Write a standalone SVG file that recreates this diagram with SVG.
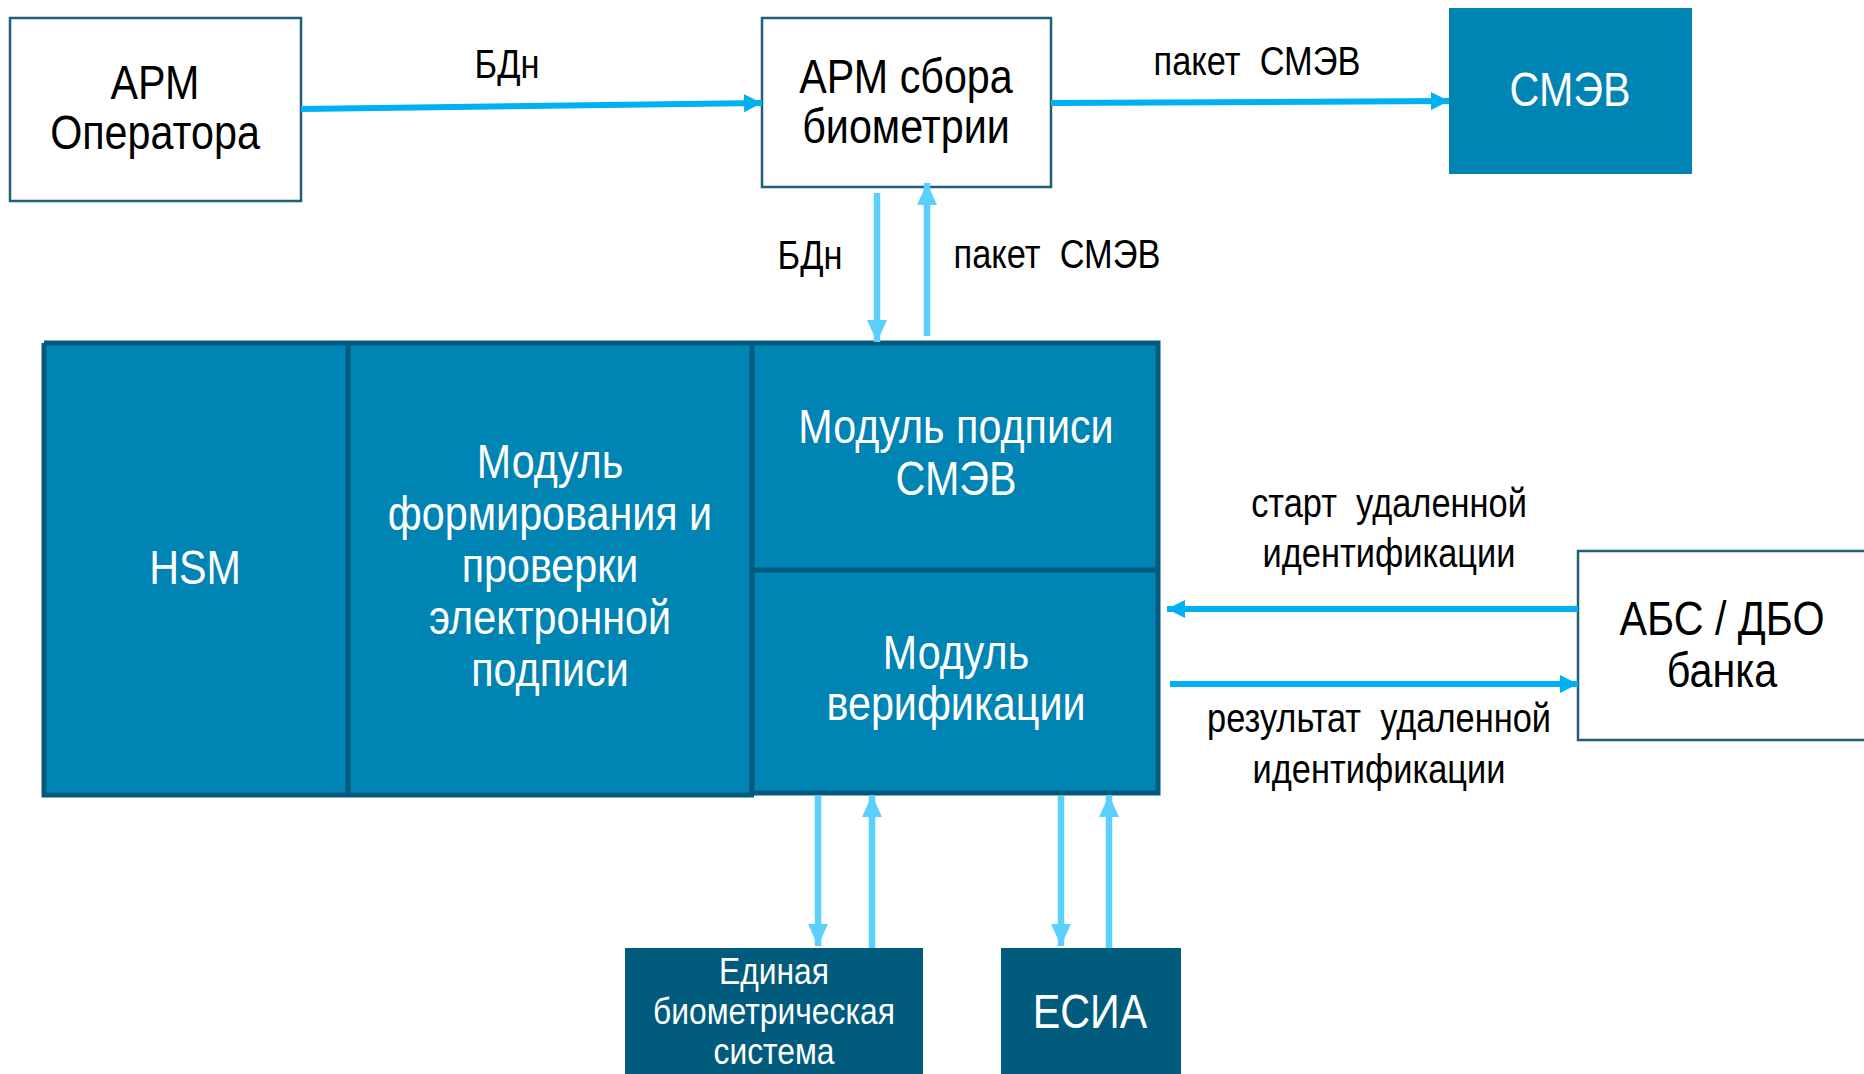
<svg xmlns="http://www.w3.org/2000/svg" width="1864" height="1074" viewBox="0 0 1864 1074">
<defs>
<style>
.t{font-family:"Liberation Sans",Arial,sans-serif;text-anchor:middle}
.dk{fill:#000}
.wh{fill:#fff}
.box{fill:#fff;stroke:#1f5f78;stroke-width:2.5}
.blue{fill:#0084b4}
.navy{fill:#005b7c}
.div{stroke:#005a7d;stroke-width:5;fill:none}
.ah{stroke:#00b0f0;stroke-width:6;fill:none}
.av{stroke:#5cd0fd;stroke-width:6.5;fill:none}
</style>
<marker id="mh" markerUnits="userSpaceOnUse" markerWidth="20" markerHeight="20" refX="18" refY="10" orient="auto">
<path d="M0,1 L18,10 L0,19 Z" fill="#00b0f0"/>
</marker>
<marker id="mv" markerUnits="userSpaceOnUse" markerWidth="24" markerHeight="20" refX="22" refY="10" orient="auto">
<path d="M0,0 L22,10 L0,20 Z" fill="#5cd0fd"/>
</marker>
</defs>
<rect width="1864" height="1074" fill="#fff"/>

<g id="arm-operator">
<rect class="box" x="10" y="18" width="291" height="183"/>
<text class="t dk" font-size="48" transform="translate(155,99) scale(0.86,1)">АРМ</text>
<text class="t dk" font-size="48" transform="translate(155,149) scale(0.86,1)">Оператора</text>
</g>

<g id="arm-sbora">
<rect class="box" x="762" y="18" width="289" height="169"/>
<text class="t dk" font-size="48" transform="translate(906,93) scale(0.86,1)">АРМ сбора</text>
<text class="t dk" font-size="48" transform="translate(906,143) scale(0.86,1)">биометрии</text>
</g>

<g id="smev">
<rect class="blue" x="1449" y="8" width="243" height="166"/>
<text class="t wh" font-size="48" transform="translate(1570,106) scale(0.86,1)">СМЭВ</text>
</g>

<g id="core">
<rect class="blue" x="42" y="343" width="1118" height="452"/>
<path class="div" d="M44,343 H1158 V793 H754 M44,343 V795 H754 M348,343 V795 M752,343 V795 M752,570 H1158"/>
</g>

<g id="hsm">
<text class="t wh" font-size="48" transform="translate(195,584) scale(0.86,1)">HSM</text>
</g>

<g id="modul-ep">
<text class="t wh" font-size="48" transform="translate(550,478) scale(0.86,1)">Модуль</text>
<text class="t wh" font-size="48" transform="translate(550,530) scale(0.86,1)">формирования и</text>
<text class="t wh" font-size="48" transform="translate(550,582) scale(0.86,1)">проверки</text>
<text class="t wh" font-size="48" transform="translate(550,634) scale(0.86,1)">электронной</text>
<text class="t wh" font-size="48" transform="translate(550,686) scale(0.86,1)">подписи</text>
</g>

<g id="modul-smev">
<text class="t wh" font-size="48" transform="translate(956,443) scale(0.86,1)">Модуль подписи</text>
<text class="t wh" font-size="48" transform="translate(956,495) scale(0.86,1)">СМЭВ</text>
</g>

<g id="modul-verif">
<text class="t wh" font-size="48" transform="translate(956,669) scale(0.86,1)">Модуль</text>
<text class="t wh" font-size="48" transform="translate(956,720) scale(0.86,1)">верификации</text>
</g>

<g id="abs-dbo">
<rect class="box" x="1578" y="551" width="300" height="189"/>
<text class="t dk" font-size="48" transform="translate(1722,635) scale(0.86,1)">АБС / ДБО</text>
<text class="t dk" font-size="48" transform="translate(1722,687) scale(0.86,1)">банка</text>
</g>

<g id="ebs">
<rect class="navy" x="625" y="948" width="298" height="126"/>
<text class="t wh" font-size="37" transform="translate(774,984) scale(0.86,1)">Единая</text>
<text class="t wh" font-size="37" transform="translate(774,1024) scale(0.86,1)">биометрическая</text>
<text class="t wh" font-size="37" transform="translate(774,1064) scale(0.86,1)">система</text>
</g>

<g id="esia">
<rect class="navy" x="1001" y="948" width="180" height="126"/>
<text class="t wh" font-size="48" transform="translate(1090,1028) scale(0.86,1)">ЕСИА</text>
</g>

<g id="connectors">
<line class="ah" x1="301" y1="109" x2="762" y2="103" marker-end="url(#mh)"/>
<line class="ah" x1="1051" y1="103" x2="1449" y2="101" marker-end="url(#mh)"/>
<line class="av" x1="877" y1="193" x2="877" y2="342" marker-end="url(#mv)"/>
<line class="av" x1="927" y1="336" x2="927" y2="183" marker-end="url(#mv)"/>
<line class="ah" x1="1578" y1="609" x2="1167" y2="609" marker-end="url(#mh)"/>
<line class="ah" x1="1170" y1="684" x2="1578" y2="684" marker-end="url(#mh)"/>
<line class="av" x1="818" y1="796" x2="818" y2="946" marker-end="url(#mv)"/>
<line class="av" x1="872" y1="948" x2="872" y2="795" marker-end="url(#mv)"/>
<line class="av" x1="1061" y1="796" x2="1061" y2="946" marker-end="url(#mv)"/>
<line class="av" x1="1109" y1="948" x2="1109" y2="795" marker-end="url(#mv)"/>
<text class="t dk" font-size="40" transform="translate(507,78) scale(0.86,1)">БДн</text>
<text class="t dk" font-size="40" transform="translate(1257,75) scale(0.86,1)">пакет&#160;&#160;СМЭВ</text>
<text class="t dk" font-size="40" transform="translate(810,269) scale(0.86,1)">БДн</text>
<text class="t dk" font-size="40" transform="translate(1057,268) scale(0.86,1)">пакет&#160;&#160;СМЭВ</text>
<text class="t dk" font-size="40" transform="translate(1389,517) scale(0.86,1)">старт&#160;&#160;удаленной</text>
<text class="t dk" font-size="40" transform="translate(1389,567) scale(0.86,1)">идентификации</text>
<text class="t dk" font-size="40" transform="translate(1379,732) scale(0.86,1)">результат&#160;&#160;удаленной</text>
<text class="t dk" font-size="40" transform="translate(1379,783) scale(0.86,1)">идентификации</text>
</g>
</svg>
